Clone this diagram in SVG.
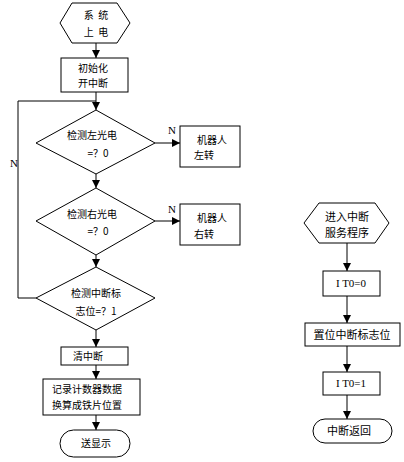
<svg xmlns="http://www.w3.org/2000/svg" width="404" height="462" viewBox="0 0 404 462">
<defs>
<marker id="ah" markerWidth="8" markerHeight="8" refX="8" refY="4" orient="auto" markerUnits="userSpaceOnUse">
<path d="M0,0 L8,4 L0,8 Z" fill="#000"/>
</marker>
<style>
.s{fill:#fff;stroke:#000;stroke-width:1}
.t{font-family:"Noto Sans CJK SC","Noto Sans",sans-serif;font-size:10px;fill:#000;text-anchor:middle}
.r{font-size:11px}
.n{font-family:"Liberation Serif",serif;font-size:11px;fill:#000}
.c{fill:none;stroke:#000;stroke-width:1}
</style>
</defs>
<rect width="404" height="462" fill="#fff"/>
<g id="connectors">
<path class="c" d="M96,43 V58" marker-end="url(#ah)"/>
<path class="c" d="M96,92 V110" marker-end="url(#ah)"/>
<path class="c" d="M36,298 H18 V101 H96"/>
<path class="c" d="M155,143 H180" marker-end="url(#ah)"/>
<path class="c" d="M96,174 V188" marker-end="url(#ah)"/>
<path class="c" d="M155,221 H180" marker-end="url(#ah)"/>
<path class="c" d="M96,255 V267" marker-end="url(#ah)"/>
<path class="c" d="M96,330 V347" marker-end="url(#ah)"/>
<path class="c" d="M96,365 V379" marker-end="url(#ah)"/>
<path class="c" d="M96,415 V430" marker-end="url(#ah)"/>
<path class="c" d="M347,243 V271" marker-end="url(#ah)"/>
<path class="c" d="M347,296 V323" marker-end="url(#ah)"/>
<path class="c" d="M347,346 V372" marker-end="url(#ah)"/>
<path class="c" d="M347,395 V419" marker-end="url(#ah)"/>
<text class="n" x="168" y="134">N</text>
<text class="n" x="168" y="213">N</text>
<text class="n" x="10" y="167">N</text>
</g>
<g id="start">
<polygon class="s" points="72,3 117,3 130,23 117,43 72,43 60,23"/>
<text class="t" x="96" y="19" xml:space="preserve">系  统</text>
<text class="t" x="96" y="36" xml:space="preserve">上  电</text>
</g>
<g id="init">
<rect class="s" x="61" y="58" width="67" height="34"/>
<text class="t" x="93" y="72">初始化</text>
<text class="t" x="93" y="87">开中断</text>
</g>
<g id="d1">
<polygon class="s" points="96,110 155,143 96,174 36,143"/>
<text class="t" x="92" y="139">检测左光电</text>
<text class="t" x="98" y="157">=？0</text>
</g>
<g id="left">
<rect class="s" x="180" y="126" width="60" height="41"/>
<text class="t" x="212" y="144">机器人</text>
<text class="t" x="204" y="159">左转</text>
</g>
<g id="d2">
<polygon class="s" points="96,188 155,221 96,255 36,221"/>
<text class="t" x="92" y="218">检测右光电</text>
<text class="t" x="98" y="235">=？0</text>
</g>
<g id="right">
<rect class="s" x="180" y="204" width="60" height="41"/>
<text class="t" x="212" y="222">机器人</text>
<text class="t" x="204" y="238">右转</text>
</g>
<g id="d3">
<polygon class="s" points="96,267 155,298 96,330 36,298"/>
<text class="t" x="96" y="297">检测中断标</text>
<text class="t" x="96" y="315">志位=？1</text>
</g>
<g id="clear">
<rect class="s" x="61" y="347" width="67" height="18"/>
<text class="t" x="88" y="360">清中断</text>
</g>
<g id="record">
<rect class="s" x="43" y="379" width="97" height="36"/>
<text class="t" x="87" y="393">记录计数器数据</text>
<text class="t" x="87" y="409">换算成铁片位置</text>
</g>
<g id="show">
<rect class="s" x="60" y="430" width="70" height="27" rx="13.5"/>
<text class="t" x="96" y="447">送显示</text>
</g>
<g id="isr">
<polygon class="s" points="319,203 375,203 389,223 375,243 319,243 304,223"/>
<text class="t r" x="347" y="221">进入中断</text>
<text class="t r" x="347" y="237">服务程序</text>
</g>
<g id="it00">
<rect class="s" x="323" y="271" width="57" height="25"/>
<text class="n" x="351" y="287" text-anchor="middle">I T0=0</text>
</g>
<g id="setflag">
<rect class="s" x="305" y="323" width="95" height="23"/>
<text class="t r" x="352" y="339">置位中断标志位</text>
</g>
<g id="it01">
<rect class="s" x="323" y="372" width="57" height="23"/>
<text class="n" x="351" y="387" text-anchor="middle">I T0=1</text>
</g>
<g id="ret">
<rect class="s" x="313" y="419" width="79" height="24" rx="12"/>
<text class="t r" x="349" y="435">中断返回</text>
</g>
</svg>
